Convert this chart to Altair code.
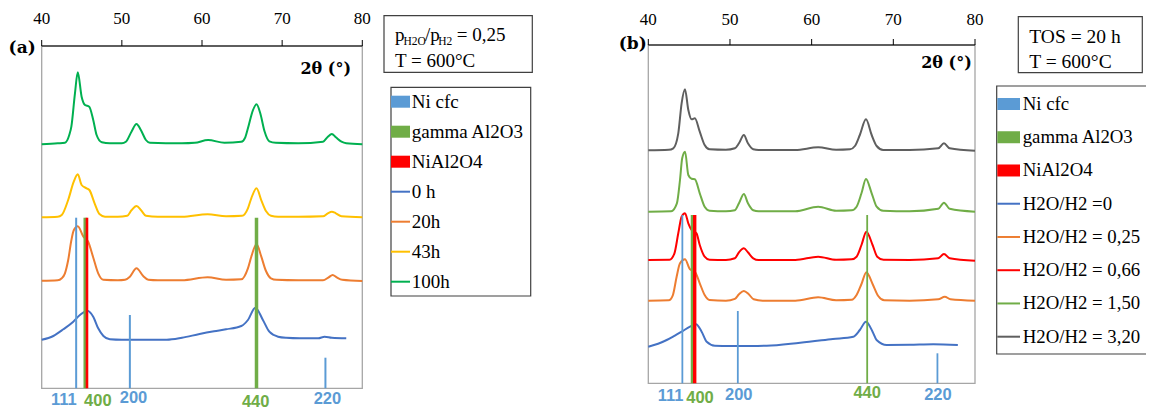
import altair as alt
import pandas as pd

# ======================= DATA =======================
tick_values = [40, 50, 60, 70, 80]

# ---------- panel (a): pH2O/pH2 = 0.25, T = 600 C ----------
a_series = ["0 h", "20h", "43h", "100h"]
a_colors = ["#4472C4", "#ED7D31", "#FFC000", "#00B050"]

a0_x = [40.0, 41.45, 42.7, 43.94, 44.77, 45.7, 46.43, 47.05, 47.7, 48.5, 50.0, 55.6, 57.5, 59.7,
        61.5, 63.0, 64.9, 65.73, 66.65, 67.6, 68.4, 69.5, 70.5, 72.2, 74.5, 75.3, 76.2, 78.0]
a0_y = [48.5, 52.3, 59.0, 66.6, 73.3, 77.6, 71.6, 60.0, 52.3, 49.0, 48.5, 48.5, 50.5, 54.3,
        57.0, 59.0, 62.3, 68.3, 80.6, 68.3, 56.6, 51.6, 50.5, 50.0, 50.0, 51.6, 50.5, 50.0]

a20_x = [40.0, 42.0, 42.5, 42.9, 43.3, 43.7, 44.0, 44.5, 45.2, 45.8, 46.4, 47.05, 47.7, 49.5,
         50.4, 51.0, 51.83, 52.66, 53.3, 54.5, 57.5, 60.7, 63.0, 64.9, 65.73, 66.15, 66.8, 67.4,
         67.93, 68.6, 69.3, 72.0, 75.1, 75.8, 76.3, 76.8, 77.5, 80.0]
a20_y = [107.5, 108, 110, 115, 128, 148, 158, 162, 151.6, 146.6, 131.6, 115, 108.5, 108,
         108.5, 111.6, 120, 112.3, 108.5, 108, 108, 111, 108.5, 109, 120, 131.6, 144.3, 131.6,
         118.3, 110, 108.5, 108, 108, 111, 113.3, 111, 108.5, 107.3]

a43_x = [40.0, 42.0, 42.5, 43.3, 44.0, 44.5, 44.98, 45.6, 45.95, 46.6, 47.2, 47.9, 49.5, 50.67,
         51.2, 51.83, 52.4, 53.0, 54.5, 57.5, 60.7, 63.0, 65.0, 65.73, 66.15, 66.8, 67.4, 68.0,
         68.6, 69.5, 72.0, 75.1, 75.7, 76.2, 76.7, 77.4, 80.0]
a43_y = [171, 171.5, 173.3, 188.3, 206.6, 214, 203.3, 200, 198.3, 185, 174.3, 171.6, 171.5, 172.5,
         178, 182.3, 178, 172.5, 171.5, 171.5, 174, 172, 172.5, 180, 190, 200, 188, 177,
         172.5, 171.5, 171.5, 172, 175, 176.6, 175, 172, 171]

a100_x = [40.0, 42.0, 42.9, 43.44, 43.7, 44.15, 44.5, 44.98, 45.4, 45.93, 46.43, 46.85, 47.5, 48.5,
          50.0, 50.5, 51.2, 51.83, 52.37, 53.0, 53.5, 57.5, 59.1, 60.75, 62.8, 64.9, 65.4, 65.73,
          66.35, 66.8, 67.27, 67.8, 68.4, 69.2, 72.0, 75.1, 75.7, 76.2, 76.7, 77.4, 78.0, 80.0]
a100_y = [244, 245, 245.6, 253.3, 261.6, 295, 316, 291.6, 283.3, 281.6, 268.3, 253.3, 246, 245,
          245, 246.6, 256.6, 264.3, 258.3, 248.3, 245.5, 245, 245.5, 248.3, 245.5, 246.5, 251, 260,
          278, 284, 275, 257, 247, 245.5, 245, 246.6, 251.6, 254.3, 251, 246.6, 245, 244]

a_ni_pos = [44.3, 51.0, 75.4]
a_ni_h = [170.6, 73.3, 30.6]
a_gam_pos = [45.4, 66.8]
a_gam_h = [170.6, 170.6]
a_spi_pos = [45.65]
a_spi_h = [170.6]
a_ni_lab = ["111", "200", "220"]
a_ni_lab_x = [42.75, 51.45, 75.65]
a_ni_lab_y = [-11.7, -9.2, -10.4]
a_gam_lab = ["400", "440"]
a_gam_lab_x = [47.0, 66.7]
a_gam_lab_y = [-12.5, -13.3]

# ---------- panel (b): TOS = 20 h, T = 600 C ----------
b_series = ["H2O/H2 =0", "H2O/H2 = 0,25", "H2O/H2 = 0,66", "H2O/H2 = 1,50", "H2O/H2 = 3,20"]
b_colors = ["#4472C4", "#ED7D31", "#FF0000", "#70AD47", "#5F5F5F"]

b0_x = [40.0, 41.2, 42.25, 43.2, 44.08, 45.1, 45.84, 46.53, 47.15, 48.16, 50.0, 54.5, 58.6, 62.6,
        65.1, 65.9, 66.65, 67.46, 67.95, 69.2, 72.0, 74.9, 77.9]
b0_y = [36.6, 39.5, 43.3, 47.5, 51.6, 56.6, 59.0, 51.6, 41.6, 37.6, 37.3, 37.5, 40.6, 44.3,
        46.6, 53.3, 61.6, 51.6, 43.3, 38.3, 38.5, 39.0, 38.3]

b025_x = [40.0, 42.5, 43.0, 43.47, 43.88, 44.49, 45.1, 45.7, 46.3, 46.9, 47.5, 49.5, 50.6, 51.1,
          51.7, 52.3, 52.9, 54.0, 58.0, 60.8, 63.0, 64.9, 65.5, 66.1, 66.7, 67.46, 68.15, 68.9,
          72.0, 75.5, 76.3, 77.0, 80.0]
b025_y = [82.6, 83.0, 88.0, 106.6, 120.0, 124.0, 114.0, 111.6, 100.0, 88.3, 83.3, 82.6, 84.5, 89.0,
          92.3, 89.0, 84.0, 82.6, 82.6, 86.0, 83.0, 83.5, 88.3, 99.3, 111.0, 99.3, 87.3, 83.0,
          82.6, 84.0, 86.6, 84.0, 82.6]

b066_x = [40.0, 42.6, 43.2, 43.67, 44.08, 44.49, 44.9, 45.3, 45.9, 46.3, 46.9, 47.5, 49.5, 50.6,
          51.1, 51.7, 52.2, 52.85, 53.5, 58.0, 60.8, 63.0, 64.9, 65.5, 66.1, 66.7, 67.46, 68.03,
          68.8, 72.0, 75.5, 76.2, 76.9, 80.0]
b066_y = [123.3, 123.5, 130.0, 150.0, 166.6, 170.0, 160.0, 153.3, 150.0, 138.3, 126.6, 123.5, 123.3, 125.0,
          131.0, 135.0, 131.0, 125.0, 123.3, 123.3, 126.6, 123.5, 124.0, 126.6, 138.3, 151.6, 138.3, 126.6,
          123.5, 123.3, 125.0, 129.3, 125.0, 122.6]

b150_x = [40.0, 42.8, 43.5, 43.88, 44.15, 44.5, 44.9, 45.3, 45.7, 46.3, 46.9, 47.5, 49.5, 50.6,
          51.1, 51.7, 52.2, 52.85, 53.5, 58.0, 60.8, 63.0, 64.9, 65.5, 66.1, 66.65, 67.35, 67.96,
          68.76, 72.0, 75.5, 76.2, 76.9, 80.0]
b150_y = [171.6, 172.0, 180.0, 203.3, 225.0, 231.6, 208.3, 204.5, 204.0, 190.0, 176.6, 172.6, 172.0, 173.0,
          180.0, 189.3, 180.0, 173.0, 172.0, 172.0, 176.6, 172.5, 173.0, 176.6, 190.0, 204.3, 190.0, 176.6,
          172.5, 172.0, 174.5, 180.6, 174.5, 171.6]

b320_x = [40.0, 42.5, 43.06, 43.67, 44.08, 44.49, 44.9, 45.3, 45.7, 46.3, 46.9, 47.5, 49.5, 50.6,
          51.1, 51.7, 52.2, 52.85, 53.5, 58.0, 60.8, 63.0, 64.7, 65.3, 65.9, 66.65, 67.35, 67.96,
          68.76, 72.0, 75.5, 76.2, 76.9, 80.0]
b320_y = [233.0, 233.5, 235.0, 250.0, 280.0, 294.0, 273.3, 264.0, 265.0, 251.6, 238.3, 234.0, 233.5, 235.0,
          240.0, 248.3, 240.0, 234.0, 233.3, 233.3, 236.0, 233.5, 234.0, 237.3, 248.3, 264.0, 248.3, 237.3,
          233.3, 233.3, 235.0, 240.0, 235.0, 232.6]

b_ni_pos = [44.17, 50.96, 75.4]
b_ni_h = [168.3, 72.3, 30.0]
b_gam_pos = [45.35, 66.8]
b_gam_h = [168.3, 168.3]
b_spi_pos = [45.68]
b_spi_h = [168.3]
b_ni_lab = ["111", "200", "220"]
b_ni_lab_x = [42.72, 51.07, 75.46]
b_ni_lab_y = [-12.7, -11.7, -11.3]
b_gam_lab = ["400", "440"]
b_gam_lab_x = [46.33, 66.8]
b_gam_lab_y = [-14.2, -9.2]

# ---------- legends ----------
phase_labels = ["Ni cfc", "gamma Al2O3", "NiAl2O4"]
phase_colors = ["#5B9BD5", "#70AD47", "#FF0000"]
a_info_line1 = ["p", "H2O", "/p", "H2", "= 0,25"]
a_info_line2 = "T = 600°C"
b_info_line1 = "TOS = 20 h"
b_info_line2 = "T = 600°C"

# ======================= STYLE / LAYOUT =======================
SERIF = "Liberation Serif"
BOLD_SERIF = "DejaVu Serif"
SANS = "Liberation Sans Narrow, Liberation Sans, Arial"
W, H = 1138, 401
NI_C, GAM_C, SPI_C = "#5B9BD5", "#70AD47", "#FF0000"

A = dict(xr=[33.7, 354.3], ytop=38.0, ybot=380.3, ymax=342.3, lab_up=22,
         tag="(a)", tag_dx=-6.0, tag_dy=2.3, th_dx=-11.3, th_dy=22.8,
         ni_w=2, gam_w=[3, 3.5], spi_w=2.6)
B = dict(xr=[640.3, 967.0], ytop=37.0, ybot=375.3, ymax=338.3, lab_up=20,
         tag="(b)", tag_dx=-1.6, tag_dy=-1.0, th_dx=-3.3, th_dy=17.5,
         ni_w=1.8, gam_w=[2.5, 1.8], spi_w=3.4)

one = pd.DataFrame({"d": [0]})


def panel(cfg, series, colors, xs_list, ys_list, ni_pos, ni_h, gam_pos, gam_h, spi_pos, spi_h,
          ni_lab, ni_lab_x, ni_lab_y, gam_lab, gam_lab_x, gam_lab_y):
    xs = alt.Scale(domain=[40, 80], range=cfg["xr"], nice=False, zero=False)
    ys = alt.Scale(domain=[0, cfg["ymax"]], range=[cfg["ybot"], cfg["ytop"]], nice=False, zero=False)
    ymax = cfg["ymax"]

    rows = [{"series": s, "x": x, "y": y}
            for s, xx, yy in zip(series, xs_list, ys_list) for x, y in zip(xx, yy)]
    curves = alt.Chart(pd.DataFrame(rows)).mark_line(strokeWidth=2, interpolate="monotone").encode(
        x=alt.X("x:Q", scale=xs, axis=None),
        y=alt.Y("y:Q", scale=ys, axis=None),
        color=alt.Color("series:N", scale=alt.Scale(domain=series, range=colors), legend=None),
    )

    frame = alt.Chart(one).mark_rect(fill="transparent", stroke="#A6A6A6", strokeWidth=1.3).encode(
        x=alt.XDatum(40, scale=xs, axis=None), x2=alt.X2Datum(80),
        y=alt.YDatum(0, scale=ys, axis=None), y2=alt.Y2Datum(ymax),
    )

    # top axis (domain line, outward ticks, labels) drawn through the panel's scales
    tdf = pd.DataFrame({"t": tick_values})
    domain = alt.Chart(one).mark_rule(color="black", strokeWidth=1.2).encode(
        x=alt.XDatum(40, scale=xs, axis=None), x2=alt.X2Datum(80),
        y=alt.YDatum(ymax, scale=ys, axis=None))
    ticks = alt.Chart(tdf).mark_rule(color="black", strokeWidth=1).encode(
        x=alt.X("t:Q", scale=xs, axis=None),
        y=alt.YDatum(ymax, scale=ys, axis=None), y2=alt.Y2Datum(ymax + 6))
    tlabels = alt.Chart(tdf).mark_text(font=SERIF, fontSize=17, color="black", align="center",
                                       baseline="alphabetic").encode(
        x=alt.X("t:Q", scale=xs, axis=None),
        y=alt.YDatum(ymax + cfg["lab_up"], scale=ys, axis=None),
        text=alt.Text("t:Q", format="d"))

    def rules(pos, h, color, width):
        return alt.Chart(pd.DataFrame({"pos": pos, "h": h})).mark_rule(color=color, strokeWidth=width).encode(
            x=alt.X("pos:Q", scale=xs, axis=None),
            y=alt.Y("h:Q", scale=ys, axis=None),
            y2=alt.Y2Datum(0),
        )

    layers = [frame, curves, rules(ni_pos, ni_h, NI_C, cfg["ni_w"])]
    for i in range(len(gam_pos)):
        layers.append(rules([gam_pos[i]], [gam_h[i]], GAM_C, cfg["gam_w"][i]))
    layers.append(rules(spi_pos, spi_h, SPI_C, cfg["spi_w"]))
    layers += [domain, ticks, tlabels]

    def labels(lab, lx, ly, color):
        return alt.Chart(pd.DataFrame({"lab": lab, "pos": lx, "ly": ly})).mark_text(
            font=SANS, fontWeight="bold", fontSize=16.5, color=color, align="center", baseline="middle"
        ).encode(
            x=alt.X("pos:Q", scale=xs, axis=None),
            y=alt.Y("ly:Q", scale=ys, axis=None),
            text="lab:N",
        )

    layers.append(labels(ni_lab, ni_lab_x, ni_lab_y, NI_C))
    layers.append(labels(gam_lab, gam_lab_x, gam_lab_y, GAM_C))

    theta = alt.Chart(one).mark_text(text="2θ (°)", font=BOLD_SERIF, fontWeight="bold", fontSize=16,
                                     align="right", baseline="middle", dx=cfg["th_dx"], dy=cfg["th_dy"],
                                     color="black").encode(
        x=alt.XDatum(80, scale=xs, axis=None), y=alt.YDatum(ymax, scale=ys, axis=None))
    tag = alt.Chart(one).mark_text(text=cfg["tag"], font=BOLD_SERIF, fontWeight="bold", fontSize=17,
                                   align="right", baseline="middle", dx=cfg["tag_dx"], dy=cfg["tag_dy"],
                                   color="black").encode(
        x=alt.XDatum(40, scale=xs, axis=None), y=alt.YDatum(ymax, scale=ys, axis=None))
    layers += [theta, tag]
    return alt.layer(*layers)


def txt(s, x, y, size, baseline="alphabetic"):
    return alt.Chart(pd.DataFrame({"t": [s]})).mark_text(
        align="left", baseline=baseline, font=SERIF, fontSize=size, color="black"
    ).encode(x=alt.value(x), y=alt.value(y), text="t:N")


def box(x1, x2, y1, y2):
    return alt.Chart(one).mark_rect(fill="transparent", stroke="#404040", strokeWidth=1.2).encode(
        x=alt.value(x1), x2=alt.value(x2), y=alt.value(y1), y2=alt.value(y2))


def legend(labels, colors, kinds, rows_y, sym_x, text_x, fsize, bar_h, lbox, extra):
    rows = pd.DataFrame({"label": labels, "kind": kinds})
    yl = alt.Y("label:N", scale=alt.Scale(type="point", domain=labels, range=rows_y, padding=0), axis=None)
    cl = alt.Color("label:N", scale=alt.Scale(domain=labels, range=colors), legend=None)
    bars = alt.Chart(rows).transform_filter(alt.datum.kind == "bar").mark_rule(strokeWidth=bar_h).encode(
        x=alt.value(sym_x[0]), x2=alt.value(sym_x[1]), y=yl, color=cl)
    lines = alt.Chart(rows).transform_filter(alt.datum.kind == "line").mark_rule(strokeWidth=2).encode(
        x=alt.value(sym_x[0]), x2=alt.value(sym_x[1]), y=yl, color=cl)
    texts = alt.Chart(rows).mark_text(align="left", baseline="middle", font=SERIF, fontSize=fsize,
                                      color="black").encode(x=alt.value(text_x), y=yl, text="label:N")
    return alt.layer(box(*lbox), bars, lines, texts, *extra)


sideA = panel(A, a_series, a_colors, [a0_x, a20_x, a43_x, a100_x], [a0_y, a20_y, a43_y, a100_y],
              a_ni_pos, a_ni_h, a_gam_pos, a_gam_h, a_spi_pos, a_spi_h,
              a_ni_lab, a_ni_lab_x, a_ni_lab_y, a_gam_lab, a_gam_lab_x, a_gam_lab_y)
sideB = panel(B, b_series, b_colors, [b0_x, b025_x, b066_x, b150_x, b320_x],
              [b0_y, b025_y, b066_y, b150_y, b320_y],
              b_ni_pos, b_ni_h, b_gam_pos, b_gam_h, b_spi_pos, b_spi_h,
              b_ni_lab, b_ni_lab_x, b_ni_lab_y, b_gam_lab, b_gam_lab_x, b_gam_lab_y)

a_info = [
    box(376, 524.3, 7.7, 64.3),
    txt(a_info_line1[0], 387, 32.7, 19),
    txt(a_info_line1[1], 395.5, 36.5, 11.5),
    txt(a_info_line1[2], 417, 32.7, 19),
    txt(a_info_line1[3], 430.3, 36.5, 11.5),
    txt(a_info_line1[4], 448.7, 32.7, 19),
    txt(a_info_line2, 387, 58.7, 19),
]
b_info = [
    box(1010.3, 1134.3, 8.7, 64.7),
    txt(b_info_line1, 1021.3, 34.7, 19.5),
    txt(b_info_line2, 1021.3, 60.3, 19.5),
]

legA = legend(phase_labels + a_series, phase_colors + a_colors, ["bar"] * 3 + ["line"] * 4,
              [93.7, 273.7], [383, 402], 403.7, 19, 12, (383, 522.7, 79.3, 288), a_info)
legB = legend(phase_labels + b_series, phase_colors + b_colors, ["bar"] * 3 + ["line"] * 5,
              [96, 328.7], [989.3, 1012], 1014.7, 18.8, 12, (988.7, 1160, 78, 346), b_info)

chart = alt.layer(sideA, legA, sideB, legB).resolve_scale(
    x="independent", y="independent", color="independent"
).properties(
    width=W, height=H, padding=0, autosize=alt.AutoSizeParams(type="none")
).configure_view(stroke=None)

chart.save("out.html", embed_options={"renderer": "svg", "actions": False})
